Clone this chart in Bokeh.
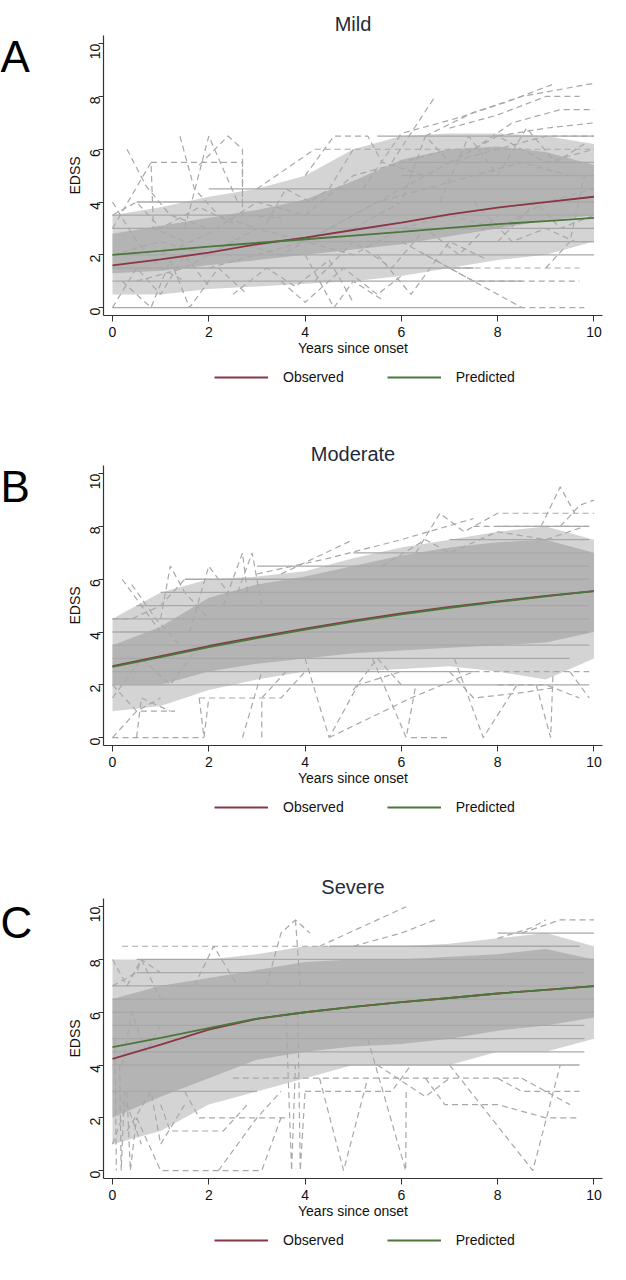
import math
from bokeh.plotting import figure
from bokeh.layouts import column, row
from bokeh.models import Range1d, Label, Legend, LegendItem, FixedTicker
from bokeh.embed import file_html
from bokeh.resources import INLINE

FONT = "Liberation Sans"
YEARS = [0, 1, 2, 3, 4, 5, 6, 7, 8, 9, 10]
TICKS = [0, 2, 4, 6, 8, 10]
TITLES = ["Mild", "Moderate", "Severe"]
LETTERS = ["A", "B", "C"]
SERIES = ["Observed", "Predicted"]

# mean curves (EDSS at each year since onset)
MILD_OBS = [1.60, 1.83, 2.08, 2.40, 2.65, 2.94, 3.22, 3.53, 3.79, 4.00, 4.20]
MILD_PRED = [2.00, 2.15, 2.31, 2.45, 2.59, 2.73, 2.87, 3.02, 3.16, 3.28, 3.40]
MOD_OBS = [2.71, 3.09, 3.47, 3.81, 4.13, 4.43, 4.71, 4.95, 5.16, 5.37, 5.55]
MOD_PRED = [2.68, 3.05, 3.43, 3.77, 4.09, 4.39, 4.67, 4.92, 5.14, 5.35, 5.55]
SEV_OBS = [4.23, 4.77, 5.34, 5.75, 6.00, 6.20, 6.38, 6.54, 6.71, 6.85, 6.99]
SEV_PRED = [4.68, 5.03, 5.40, 5.76, 6.00, 6.20, 6.38, 6.54, 6.71, 6.85, 6.99]

# spread of individual trajectories (sparse outer and dense core)
MILD_OUT_LO = [0.5, 0.5, 0.7, 0.8, 0.9, 1.0, 1.2, 1.5, 1.8, 2.0, 2.5]
MILD_OUT_HI = [3.5, 3.8, 4.2, 4.5, 5.0, 6.0, 6.5, 6.6, 6.6, 6.5, 6.2]
MILD_CORE_LO = [1.3, 1.4, 1.6, 1.8, 2.0, 2.2, 2.4, 2.7, 3.0, 3.3, 3.5]
MILD_CORE_HI = [2.8, 3.1, 3.4, 3.7, 4.1, 4.8, 5.6, 6.0, 6.1, 5.9, 5.4]
MOD_OUT_LO = [1.0, 1.2, 1.8, 2.2, 2.5, 2.5, 2.6, 2.7, 2.5, 2.2, 3.0]
MOD_OUT_HI = [4.5, 5.5, 6.0, 6.1, 6.3, 6.8, 7.2, 7.5, 7.8, 8.0, 7.5]
MOD_CORE_LO = [2.0, 2.0, 2.5, 2.8, 3.0, 3.2, 3.3, 3.4, 3.5, 3.6, 4.0]
MOD_CORE_HI = [3.5, 4.2, 5.3, 5.8, 6.1, 6.5, 6.9, 7.2, 7.4, 7.5, 7.0]
SEV_OUT_LO = [1.0, 1.5, 2.5, 3.0, 3.5, 4.0, 4.0, 4.0, 4.5, 4.5, 5.0]
SEV_OUT_HI = [8.0, 8.0, 8.0, 8.2, 8.5, 8.5, 8.5, 8.6, 8.8, 9.0, 8.5]
SEV_CORE_LO = [2.0, 2.8, 3.5, 4.2, 4.5, 4.7, 4.8, 5.0, 5.3, 5.5, 5.8]
SEV_CORE_HI = [6.5, 7.0, 7.3, 7.6, 7.9, 8.0, 8.0, 8.1, 8.2, 8.4, 8.0]

# constant-EDSS patients (level, from year, to year)
MILD_FLAT_Y = [0.0, 1.0, 1.5, 2.0, 2.5, 3.0, 3.5, 4.0, 4.5, 5.0, 5.5, 6.5]
MILD_FLAT_X0 = [0.0, 0.0, 0.0, 0.0, 3.0, 0.0, 0.0, 0.5, 2.0, 6.0, 6.0, 5.5]
MILD_FLAT_X1 = [8.5, 8.5, 7.5, 10.0, 10.0, 10.0, 10.0, 10.0, 10.0, 10.0, 10.0, 10.0]
MOD_FLAT_Y = [2.0, 2.5, 3.0, 3.5, 4.0, 4.5, 5.0, 5.5, 6.0, 6.5, 7.0, 7.5, 8.0]
MOD_FLAT_X0 = [0.0, 0.0, 0.0, 0.0, 0.0, 0.0, 0.5, 1.0, 1.5, 3.0, 5.0, 7.0, 8.0]
MOD_FLAT_X1 = [9.9, 7.5, 9.5, 9.9, 9.9, 9.9, 9.9, 9.9, 9.9, 9.9, 9.9, 9.9, 9.9]
SEV_FLAT_Y = [3.0, 4.0, 4.5, 5.0, 5.5, 6.0, 6.5, 7.0, 7.5, 8.0, 8.5, 9.0]
SEV_FLAT_X0 = [0.0, 0.0, 0.0, 0.0, 0.0, 0.0, 0.0, 0.0, 0.5, 0.5, 4.5, 8.0]
SEV_FLAT_X1 = [3.0, 9.7, 9.8, 9.8, 9.8, 10.0, 10.0, 10.0, 9.8, 10.0, 9.7, 10.0]

# individual trajectories (year, EDSS)
MILD_TRAJ = [
    [(0.3, 6.0), (0.7, 4.6), (1.2, 3.5), (2.0, 3.0)],
    [(0.8, 5.5), (2.7, 5.5), (2.7, 3.5), (3.5, 3.4)],
    [(0.0, 3.0), (0.8, 5.5), (0.85, 3.0), (1.5, 2.5)],
    [(1.8, 5.4), (2.4, 6.5), (2.7, 6.0), (2.7, 4.0)],
    [(1.4, 6.5), (1.7, 4.5), (2.2, 3.5), (3.0, 3.0)],
    [(0.0, 4.0), (0.5, 2.5), (1.0, 1.5), (1.5, 1.0)],
    [(1.5, 3.0), (2.0, 6.5), (2.6, 4.0)],
    [(3.0, 4.5), (4.2, 6.0), (10.0, 6.0)],
    [(4.0, 5.0), (4.6, 6.5), (5.3, 6.5), (5.6, 5.5), (6.5, 5.0)],
    [(5.8, 5.5), (6.7, 8.0)],
    [(5.2, 4.5), (6.0, 6.6), (7.2, 7.2), (8.2, 7.8), (9.2, 8.5)],
    [(6.5, 6.5), (7.5, 7.4), (8.5, 8.0), (10.0, 8.5)],
    [(7.0, 6.8), (8.0, 7.3), (9.0, 8.0), (9.7, 8.0)],
    [(7.5, 6.0), (8.3, 7.0), (9.3, 7.5), (10.0, 7.5)],
    [(8.0, 6.5), (9.0, 6.8), (10.0, 7.0)],
    [(6.0, 2.5), (7.0, 1.5), (8.5, 1.5), (9.7, 1.5)],
    [(6.5, 2.0), (7.5, 1.0), (9.7, 1.0)],
    [(7.0, 1.5), (8.0, 0.5), (8.5, 0.0), (9.8, 0.0)],
    [(0.0, 0.0), (0.5, 1.5), (1.0, 0.5), (1.5, 2.0), (2.0, 0.8)],
    [(0.2, 1.0), (0.8, 0.0), (1.2, 1.8), (1.6, 0.0), (2.2, 1.5), (2.8, 0.5)],
    [(2.5, 0.5), (3.2, 1.5), (3.8, 0.8), (4.5, 1.8), (5.0, 0.2)],
    [(3.5, 1.0), (4.0, 0.2), (4.8, 1.5), (5.5, 0.5), (6.0, 1.2)],
    [(4.0, 2.0), (4.6, 0.0), (5.0, 1.0), (5.6, 0.3)],
    [(0.0, 3.5), (0.5, 4.0), (1.0, 3.0), (1.8, 3.8), (2.5, 3.2)],
    [(1.0, 2.0), (2.0, 2.8), (3.0, 4.0), (4.0, 3.5), (5.0, 5.0), (6.0, 5.5), (7.0, 6.0)],
    [(2.0, 1.5), (3.0, 2.0), (4.0, 2.5), (5.0, 3.5), (6.0, 4.5), (7.0, 5.5), (8.0, 6.0), (9.0, 6.5), (10.0, 6.5)],
    [(0.0, 2.0), (1.0, 2.5), (2.0, 2.0), (3.0, 3.0), (4.0, 2.5), (5.0, 2.0), (6.0, 3.0), (7.0, 3.5), (8.0, 3.0), (9.0, 4.0), (10.0, 4.5)],
    [(0.5, 1.0), (1.5, 1.5), (2.5, 2.5), (3.5, 2.0), (4.5, 3.0), (5.5, 4.0), (6.5, 4.5), (7.5, 5.0), (8.5, 5.5), (9.5, 5.0)],
    [(5.0, 3.0), (6.0, 4.0), (6.5, 6.5), (7.0, 5.5), (8.0, 6.5), (9.0, 5.5), (10.0, 6.0)],
    [(8.0, 2.5), (8.8, 4.0), (9.3, 3.0), (10.0, 3.5)],
    [(9.0, 1.5), (9.5, 2.5), (9.8, 5.0)],
    [(3.2, 3.2), (3.6, 4.5), (4.1, 4.0), (4.5, 4.5), (5.0, 6.0)],
    [(7.5, 4.0), (8.3, 2.5), (9.0, 3.0), (9.6, 2.5), (10.0, 2.5)],
    [(4.2, 1.0), (5.0, 2.5), (5.8, 1.5), (6.5, 3.0), (7.2, 2.0), (8.0, 3.5)],
    [(5.5, 2.0), (6.2, 0.5), (7.0, 2.5), (7.8, 1.8)],
    [(6.8, 4.0), (7.4, 6.5), (8.0, 5.0), (8.6, 6.8), (9.2, 5.5), (9.8, 6.2)],
]
MOD_TRAJ = [
    [(0.2, 6.0), (0.6, 5.0), (1.0, 4.0)],
    [(0.4, 5.8), (0.9, 4.5), (1.4, 3.5)],
    [(1.0, 4.5), (1.2, 6.5), (1.5, 5.5), (2.0, 4.5)],
    [(2.3, 5.0), (2.7, 7.0), (2.8, 5.5)],
    [(2.6, 5.5), (2.9, 7.0), (3.1, 5.0)],
    [(1.6, 4.0), (2.0, 6.5), (2.4, 5.5)],
    [(3.5, 6.2), (5.0, 7.5)],
    [(3.0, 6.2), (4.5, 6.8), (6.0, 7.5), (7.5, 8.3)],
    [(6.3, 7.0), (6.8, 8.5), (7.3, 7.8), (8.0, 8.5), (10.0, 8.5)],
    [(8.9, 8.0), (9.3, 9.5), (9.6, 8.5)],
    [(9.3, 8.0), (9.7, 8.8), (10.0, 9.0)],
    [(7.5, 8.0), (9.9, 8.0)],
    [(4.0, 3.0), (4.5, 0.0), (5.1, 2.0), (6.0, 2.5)],
    [(5.4, 3.0), (6.1, 0.0), (6.3, 2.0)],
    [(6.2, 0.0), (6.95, 0.0)],
    [(7.1, 3.0), (7.7, 0.0), (8.4, 2.0)],
    [(8.8, 2.0), (9.1, 0.0), (9.15, 2.5)],
    [(4.5, 0.0), (6.2, 1.5), (7.5, 2.5)],
    [(0.0, 0.0), (0.5, 1.0), (1.0, 1.5)],
    [(0.0, 0.0), (1.9, 0.0)],
    [(0.5, 0.0), (0.6, 1.5), (1.2, 1.0)],
    [(1.8, 1.5), (1.9, 0.0), (2.0, 1.5)],
    [(2.7, 0.0), (3.1, 2.5)],
    [(3.1, 0.0), (3.1, 1.5), (3.6, 2.5)],
    [(0.0, 2.0), (0.5, 1.0), (1.3, 1.0)],
    [(1.8, 1.5), (3.5, 1.5), (4.0, 2.5)],
    [(7.0, 2.5), (7.5, 1.5), (8.5, 1.7), (9.2, 1.9)],
    [(8.0, 2.0), (9.0, 2.0), (9.7, 1.5)],
    [(9.5, 2.5), (9.9, 1.5)],
    [(7.5, 2.5), (9.9, 2.5)],
    [(0.0, 1.5), (0.6, 3.0), (1.2, 2.0), (1.8, 3.5)],
    [(5.0, 1.8), (5.5, 3.0), (6.0, 2.0)],
    [(5.6, 6.5), (6.5, 7.5), (7.0, 7.0), (8.0, 7.8), (9.0, 7.5), (9.8, 8.0)],
    [(0.0, 4.5), (0.4, 4.5), (1.0, 5.0), (1.5, 6.0)],
]
SEV_TRAJ = [
    [(0.2, 8.5), (4.5, 8.5)],
    [(0.0, 8.0), (0.3, 7.0), (0.6, 8.0), (1.0, 6.5)],
    [(1.7, 7.0), (2.1, 8.5), (2.6, 7.0)],
    [(3.2, 7.0), (3.5, 9.0), (3.8, 9.5), (4.1, 9.0)],
    [(3.8, 9.5), (3.9, 7.0)],
    [(4.3, 8.5), (6.1, 10.0)],
    [(5.0, 8.5), (6.0, 9.0), (6.7, 9.5)],
    [(8.5, 9.0), (9.3, 9.5), (10.0, 9.5)],
    [(8.0, 8.8), (8.7, 9.2), (9.0, 9.5)],
    [(0.05, 5.0), (0.08, 0.0)],
    [(0.15, 4.0), (0.18, 0.0), (0.25, 3.0)],
    [(0.3, 3.0), (0.37, 0.0), (0.5, 2.0)],
    [(0.5, 2.0), (1.0, 0.0), (3.1, 0.0), (3.5, 2.0)],
    [(2.2, 0.0), (3.0, 2.0), (3.5, 3.0)],
    [(3.6, 6.0), (3.72, 0.0), (3.8, 4.0)],
    [(3.85, 6.0), (3.9, 0.0), (4.0, 3.0)],
    [(4.3, 3.5), (4.8, 0.0), (5.3, 3.5)],
    [(5.3, 5.0), (6.09, 0.0), (6.1, 3.0)],
    [(7.0, 4.0), (8.73, 0.0), (9.3, 4.0)],
    [(4.0, 3.0), (5.8, 3.0), (6.2, 4.0)],
    [(8.0, 3.5), (8.5, 3.0), (9.7, 3.0)],
    [(6.5, 3.5), (6.9, 2.5), (8.0, 2.5), (9.0, 2.0), (9.7, 2.0)],
    [(8.5, 3.5), (9.5, 2.5)],
    [(1.5, 3.0), (1.8, 2.0), (3.6, 2.0)],
    [(1.0, 2.5), (1.2, 1.5), (2.3, 1.5), (2.8, 2.5)],
    [(0.3, 1.5), (0.8, 3.0), (1.0, 1.0), (1.5, 2.5)],
    [(0.0, 7.0), (0.5, 7.5), (0.6, 8.0), (1.0, 7.5)],
    [(0.2, 4.0), (0.4, 6.0), (0.7, 4.5), (1.0, 5.5)],
    [(2.5, 3.5), (8.5, 3.5)],
    [(5.5, 4.0), (6.5, 2.8), (7.0, 3.5)],
    [(0.0, 1.0), (0.3, 2.5), (0.6, 1.0)],
]

GRAY = "#a8a8a8"
OBS_COLOR = "#8a3646"
PRED_COLOR = "#4b773a"


def bare_figure(width, height, y0=0):
    f = figure(width=width, height=height, output_backend="svg", toolbar_location=None,
               title=None, x_axis_type=None, y_axis_type=None,
               x_range=Range1d(0, width), y_range=Range1d(y0, y0 + height),
               min_border=0, min_border_left=0, min_border_right=0,
               min_border_top=0, min_border_bottom=0)
    f.outline_line_color = None
    f.grid.visible = False
    f.background_fill_color = "white"
    f.border_fill_color = "white"
    return f


def make_panel(idx, obs, pred, out_lo, out_hi, core_lo, core_hi,
               flat_y, flat_x0, flat_x1, trajs, top, letter_y, legend_h, legend_y):
    p = figure(frame_width=499, frame_height=280, output_backend="svg",
               toolbar_location=None,
               x_range=Range1d(-0.187, 10.177), y_range=Range1d(-0.30, 10.31),
               min_border_left=63, min_border_right=8,
               min_border_top=top, min_border_bottom=45)
    p.outline_line_color = None
    p.grid.visible = False
    p.background_fill_color = "white"
    p.border_fill_color = "white"

    p.title.text = TITLES[idx]
    p.title.align = "center"
    p.title.text_font = FONT
    p.title.text_font_size = "20px"
    p.title.text_font_style = "normal"
    p.title.text_color = "#1e2b3c"
    p.title.standoff = 2

    p.varea(x=YEARS, y1=out_lo, y2=out_hi, fill_color="#d4d4d4")
    p.varea(x=YEARS, y1=core_lo, y2=core_hi, fill_color="#b4b4b4")
    p.segment(x0=flat_x0, y0=flat_y, x1=flat_x1, y1=flat_y,
              line_color=GRAY, line_width=1.3)
    xs = [[pt[0] for pt in t] for t in trajs]
    ys = [[pt[1] for pt in t] for t in trajs]
    p.multi_line(xs=xs, ys=ys, line_color=GRAY, line_width=1.2, line_dash="6 4")

    p.line(YEARS, obs, line_color=OBS_COLOR, line_width=1.8)
    p.line(YEARS, pred, line_color=PRED_COLOR, line_width=1.8)

    for ax in (p.xaxis[0], p.yaxis[0]):
        ax.ticker = FixedTicker(ticks=TICKS)
        ax.axis_line_color = "#333333"
        ax.axis_line_width = 1.2
        ax.major_tick_line_color = "#333333"
        ax.major_tick_in = 0
        ax.minor_tick_out = 0
        ax.minor_tick_in = 0
        ax.major_label_text_font = FONT
        ax.major_label_text_font_size = "14px"
        ax.major_label_text_color = "#111111"
        ax.axis_label_text_font = FONT
        ax.axis_label_text_font_size = "14px"
        ax.axis_label_text_font_style = "normal"
        ax.axis_label_text_color = "#111111"
        ax.axis_label_standoff = 0
    p.xaxis.axis_label = "Years since onset"
    p.yaxis.axis_label = "EDSS"
    p.xaxis.major_tick_out = 6
    p.yaxis.major_tick_out = 5
    p.xaxis.major_label_standoff = 5
    p.yaxis.major_label_standoff = 3
    p.yaxis.major_label_orientation = math.pi / 2

    main_h = top + 280 + 45
    lf = bare_figure(40, main_h)
    lf.add_layout(Label(x=0, y=letter_y, text=LETTERS[idx], text_font=FONT,
                        text_font_size="44px", text_color="#000000",
                        text_baseline="alphabetic"))

    # legend strip; the proxy lines (same series) lie below its visible range
    leg = bare_figure(610, legend_h, y0=20)
    r_obs = leg.line(x=YEARS, y=obs, line_color=OBS_COLOR, line_width=1.8)
    r_pred = leg.line(x=YEARS, y=pred, line_color=PRED_COLOR, line_width=1.8)
    legend = Legend(items=[LegendItem(label=SERIES[0], renderers=[r_obs]),
                           LegendItem(label=SERIES[1], renderers=[r_pred])],
                    orientation="horizontal", location=(214, legend_y),
                    glyph_width=54, glyph_height=16, label_standoff=15,
                    spacing=43, padding=0, margin=0,
                    border_line_color=None, background_fill_alpha=0,
                    label_text_font=FONT, label_text_font_size="14px",
                    label_text_color="#111111")
    leg.add_layout(legend, "center")
    return column(row(lf, p), leg)


top_gap = bare_figure(610, 7)
pA = make_panel(0, MILD_OBS, MILD_PRED, MILD_OUT_LO, MILD_OUT_HI, MILD_CORE_LO, MILD_CORE_HI,
                MILD_FLAT_Y, MILD_FLAT_X0, MILD_FLAT_X1, MILD_TRAJ, 28, 326, 77, 52)
pB = make_panel(1, MOD_OBS, MOD_PRED, MOD_OUT_LO, MOD_OUT_HI, MOD_CORE_LO, MOD_CORE_HI,
                MOD_FLAT_Y, MOD_FLAT_X0, MOD_FLAT_X1, MOD_TRAJ, 28, 326, 78, 53)
pC = make_panel(2, SEV_OBS, SEV_PRED, SEV_OUT_LO, SEV_OUT_HI, SEV_CORE_LO, SEV_CORE_HI,
                SEV_FLAT_Y, SEV_FLAT_X0, SEV_FLAT_X1, SEV_TRAJ, 30, 324, 41, 16)

layout = column(top_gap, pA, pB, pC, spacing=0)
open("out.html", "w").write(file_html(layout, INLINE))
